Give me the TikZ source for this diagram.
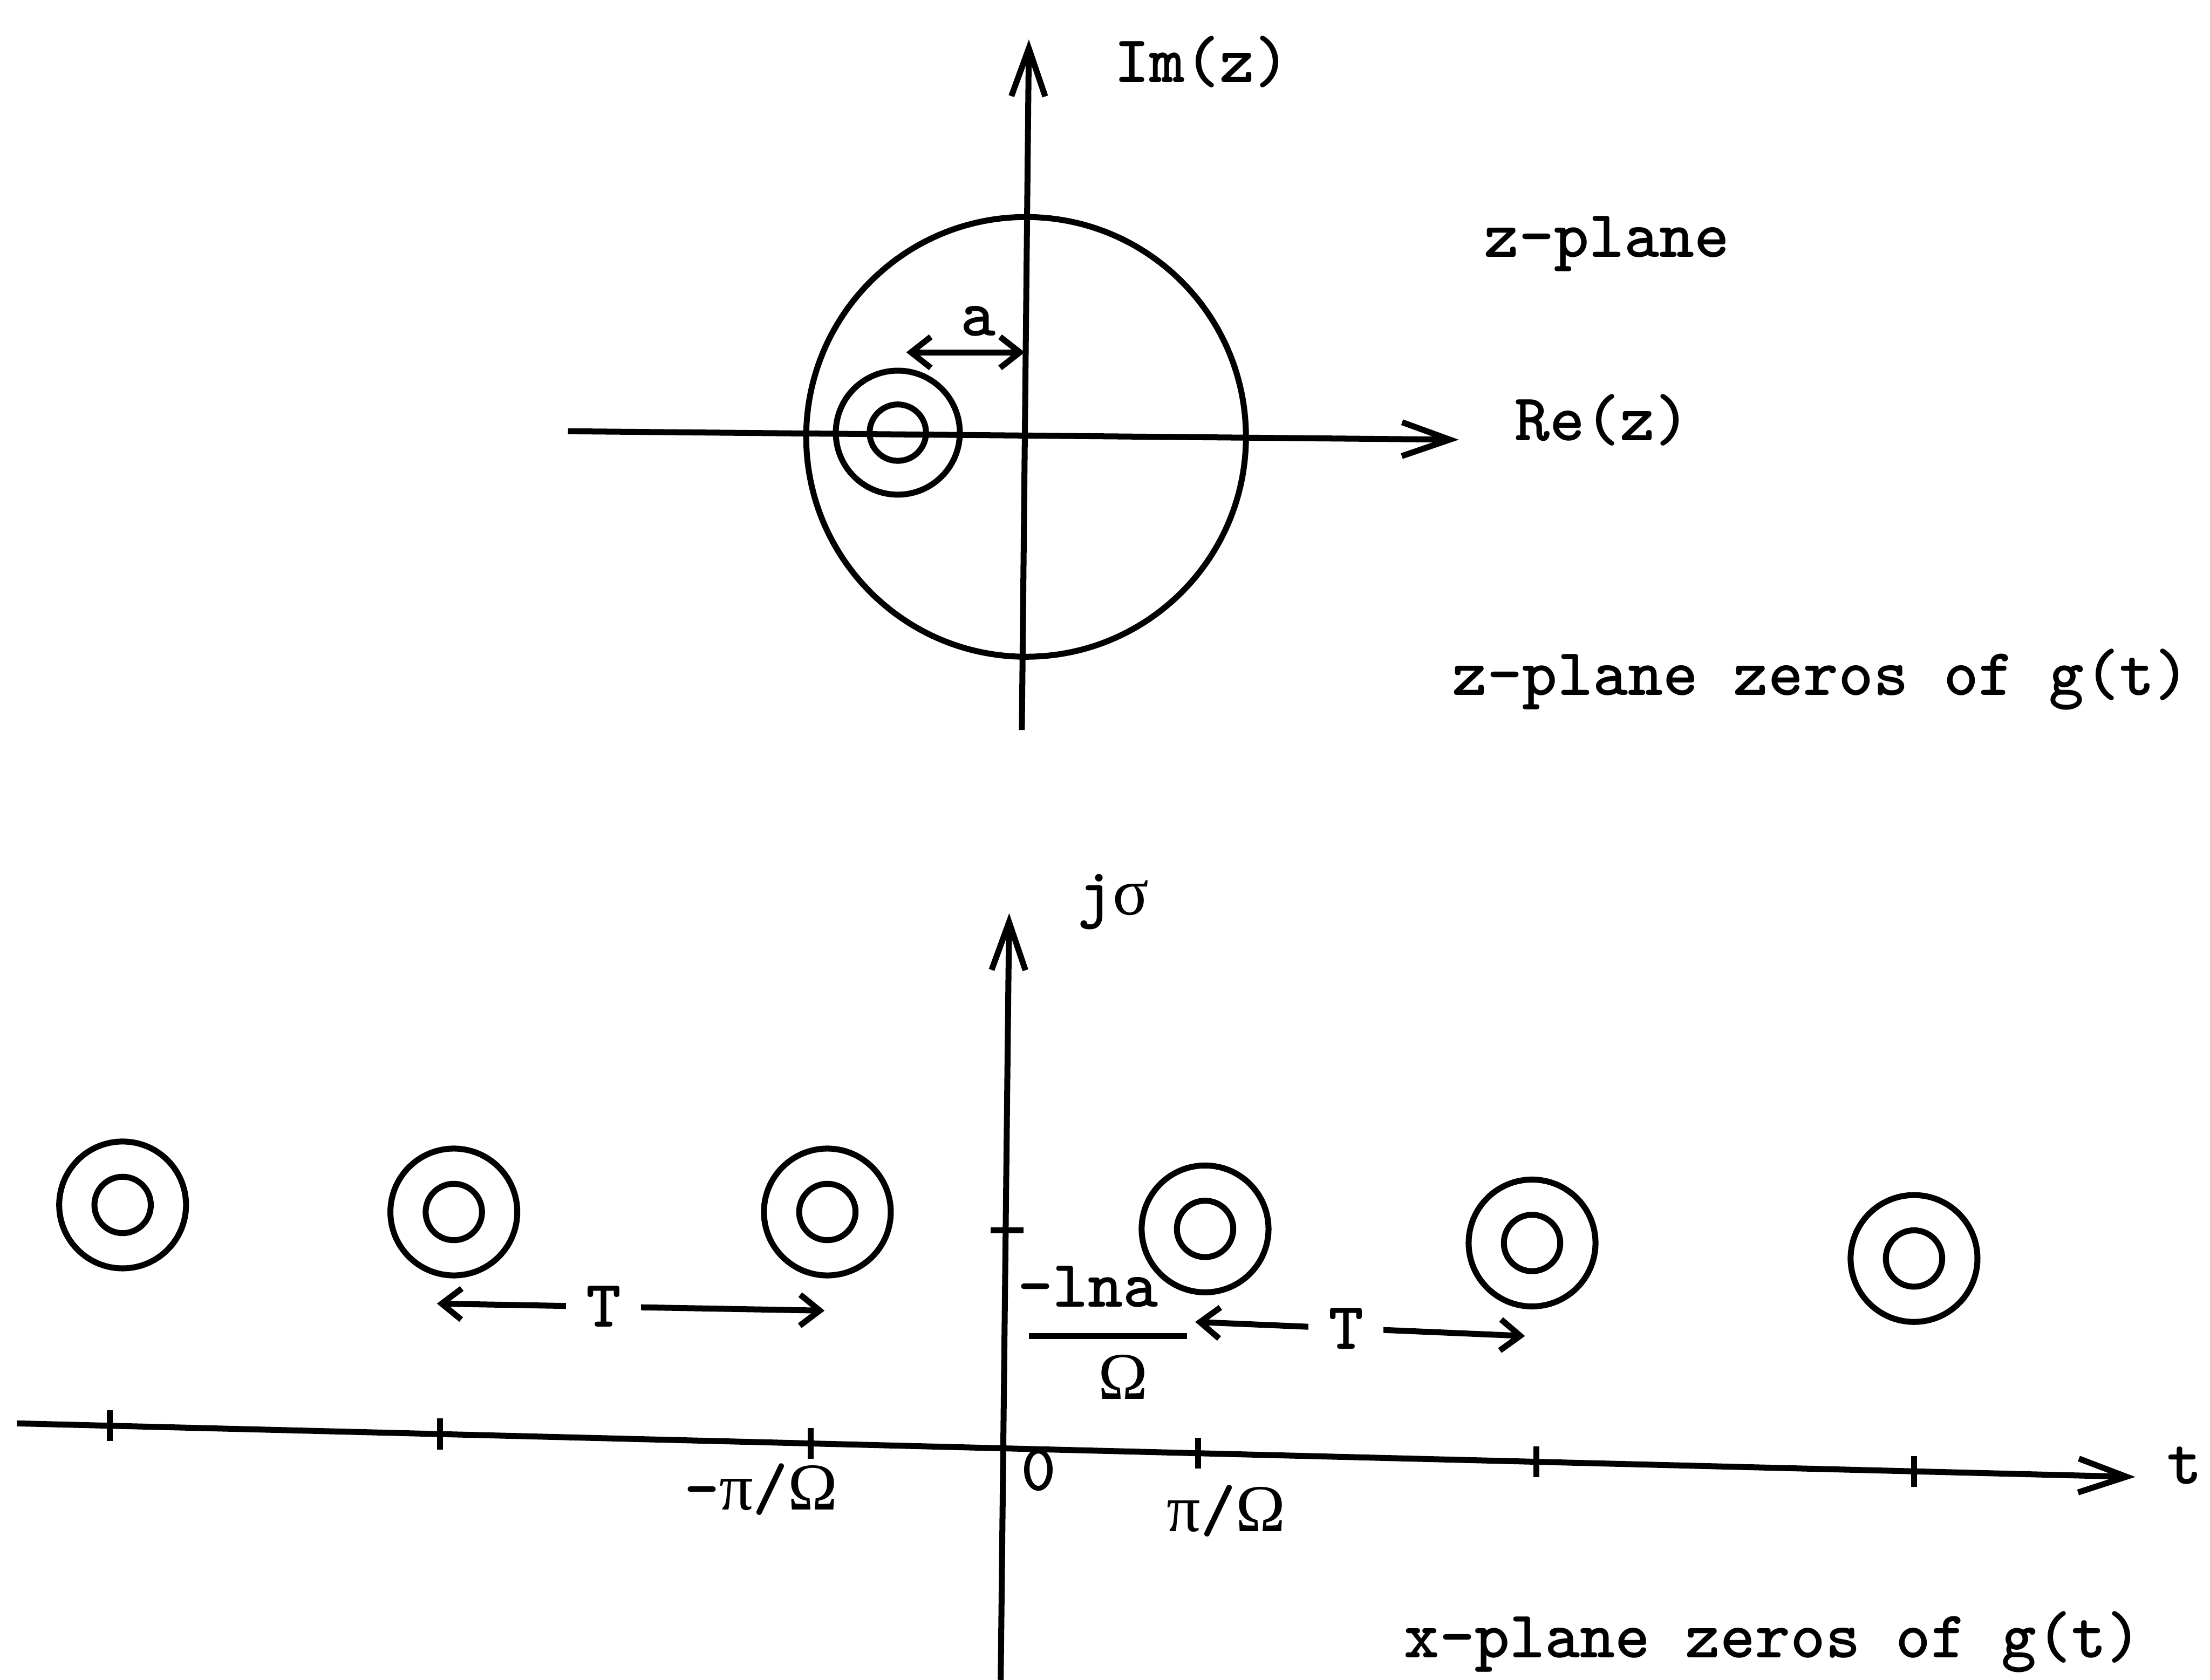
\documentclass[tikz,border=0pt]{standalone}
\usepackage{fontspec}
\newfontfamily\grk{Liberation Serif}
\usetikzlibrary{arrows.meta,calc}

\begin{document}
\begin{tikzpicture}[x=0.1mm,y=-0.1mm,line width=1.2pt,
    every node/.style={font=\fontsize{13.5}{15}\selectfont\ttfamily\bfseries,inner sep=1pt}]
  \tikzset{axis/.style={-{Straight Barb[length=3.4mm,width=2.4mm]}},
    gap/.style={{Straight Barb[length=1.4mm,width=2.2mm]}-{Straight Barb[length=1.4mm,width=2.2mm]}},
    period/.style={fill=white,inner sep=4pt}}
  \newcommand\gr[1]{{\grk\mdseries #1}}
  \useasboundingbox (0,0) rectangle (1568,1192);
  % z-plane
  \coordinate (zre0) at (403,306); \coordinate (zre1) at (1035,312);
  \coordinate (zim0) at (725,518); \coordinate (zim1) at (730,28);
  \draw[axis] (zre0) -- (zre1);
  \draw[axis] (zim0) -- (zim1);
  \draw (728,310) circle[radius=15.6mm];
  \draw (637,307) circle[radius=4.4mm] circle[radius=2mm];
  \coordinate (a0) at (643,250); \coordinate (a1) at (727,250);
  \draw[gap] (a0) -- (a1);
  \node (alab) at (694,228) {a};
  \node (imlab) at (853,44) {Im(z)};
  \node (zname) at (1140,173) {z-plane};
  \node (relab) at (1137,298) {Re(z)};
  \node (zcap) at (1292,482) {z-plane zeros of g(t)};
  % x-plane
  \coordinate (xre0) at (12,1010); \coordinate (xre1) at (1515,1048);
  \coordinate (xim0) at (710,1192); \coordinate (xim1) at (716,648);
  \draw[axis] (xre0) -- (xre1);
  \draw[axis] (xim0) -- (xim1);
  \foreach \p in {0.0439,0.1996,0.3746,0.5576,0.7172,0.8955}
    \draw ($(xre0)!\p!(xre1)$) ++(0,-11) -- ++(0,22);
  \draw (703,873) -- (726,873);
  \foreach \cx/\cy in {87/855,322/860,587/860,855/872,1087/882,1358/893}
    \draw (\cx,\cy) circle[radius=4.5mm] circle[radius=2mm];
  \coordinate (tl0) at (310,925); \coordinate (tl1) at (585,930);
  \draw[gap] (tl0) -- node[period,pos=0.43] (tleft) {T} (tl1);
  \coordinate (tr0) at (848,938); \coordinate (tr1) at (1082,948);
  \draw[gap] (tr0) -- node[period,pos=0.457] (tright) {T} (tr1);
  \node (lna) at (772,913) {-lna};
  \coordinate (fr0) at (730,948); \coordinate (fr1) at (842,948);
  \draw (fr0) -- (fr1);
  \node (om) at (797,977) {\gr{Ω}};
  \node (jslab) at (790,640) {j\gr{σ}};
  \node (zero) at (737,1043) {0};
  \node (mpi) at (540,1057) {-\gr{π}/\gr{Ω}};
  \node (pi) at (870,1072) {\gr{π}/\gr{Ω}};
  \node (tlab) at (1550,1040) {t};
  \node (xcap) at (1258,1165) {x-plane zeros of g(t)};
\end{tikzpicture}
\end{document}
